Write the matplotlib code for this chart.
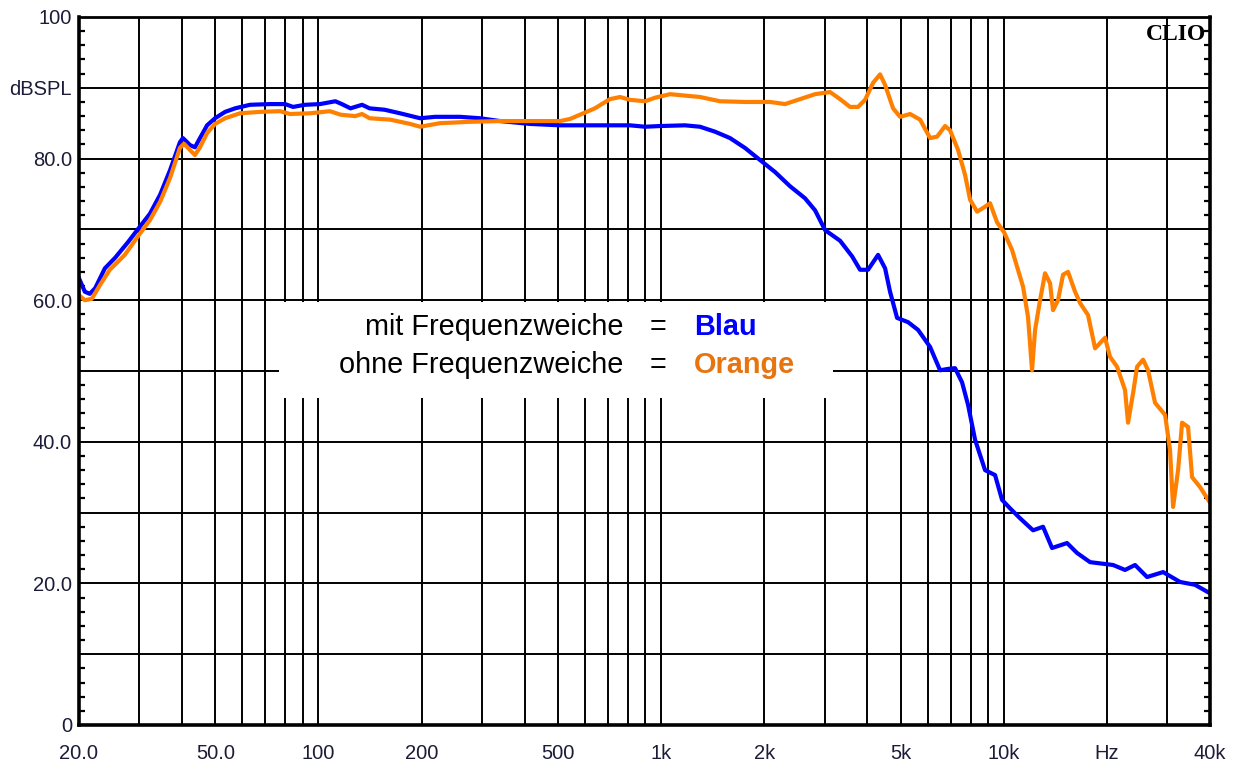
import matplotlib
matplotlib.use("Agg")
import matplotlib.pyplot as plt
from matplotlib.patches import Rectangle
from matplotlib.ticker import FixedLocator, MultipleLocator, NullFormatter

plt.rcParams['font.family'] = ['Liberation Sans', 'DejaVu Sans']

# --- data (Hz, dB SPL) ---
blau_freq = [20, 20.8, 21.5, 22.3, 23.8, 25.5, 27.8, 29.9, 32.2, 34.5, 36.9, 39.4, 40.2,
             42.2, 43.6, 45.1, 47.3, 49.9, 53.4, 57.1, 63.1, 72.2, 79.9, 84.3, 91.3, 101,
             112, 117, 124, 134, 141, 156, 173, 198, 219, 259, 296, 339, 414, 507, 663,
             811, 898, 993, 1174, 1299, 1437, 1589, 1758, 1944, 2151, 2378, 2630, 2814,
             3010, 3329, 3609, 3808, 4018, 4298, 4506, 4658, 4884, 5258, 5624, 6096,
             6520, 6880, 7210, 7558, 7870, 8248, 8820, 9434, 9888, 10436, 11160, 12180,
             13026, 13836, 15304, 16368, 17864, 20850, 22600, 24172, 26206, 29186,
             32718, 36180, 40000]
blau_db = [63.1, 61.2, 60.9, 61.7, 64.5, 66.0, 68.2, 70.2, 72.2, 74.9, 78.4, 82.3, 82.9,
           81.9, 81.6, 82.9, 84.7, 85.7, 86.6, 87.1, 87.6, 87.7, 87.7, 87.3, 87.6, 87.7,
           88.1, 87.7, 87.1, 87.6, 87.1, 86.9, 86.4, 85.7, 85.9, 85.9, 85.7, 85.3, 84.9,
           84.7, 84.7, 84.7, 84.5, 84.6, 84.7, 84.5, 83.8, 82.9, 81.5, 79.8, 78.1, 76.1,
           74.4, 72.7, 69.9, 68.4, 66.2, 64.3, 64.3, 66.4, 64.5, 61.2, 57.5, 56.9, 55.8,
           53.4, 50.1, 50.3, 50.4, 48.4, 45.2, 40.3, 36.0, 35.3, 31.8, 30.6, 29.2, 27.5,
           28.0, 25.0, 25.7, 24.3, 23.0, 22.6, 21.9, 22.6, 20.9, 21.6, 20.2, 19.8, 18.6]

orange_freq = [20, 20.8, 21.8, 23.0, 24.6, 27.2, 29.9, 32.2, 34.5, 36.9, 39.4, 40.5, 42.2,
               43.6, 45.1, 47.3, 49.9, 53.4, 59.0, 67.5, 77.2, 82.6, 94.5, 108, 116, 128,
               134, 141, 162, 185, 198, 226, 277, 339, 388, 507, 542, 580, 641, 709, 759,
               811, 898, 960, 1062, 1174, 1299, 1486, 1758, 2080, 2300, 2544, 2814, 3112,
               3329, 3560, 3757, 3938, 4156, 4356, 4506, 4754, 4984, 5330, 5700, 6096,
               6390, 6744, 6972, 7360, 7712, 7976, 8360, 8820, 9122, 9562, 10022, 10576,
               11388, 11776, 12098, 12346, 12766, 13202, 13652, 13930, 14404, 14896,
               15406, 16150, 16702, 17624, 18478, 19758, 20432, 21420, 22600, 23060,
               23858, 24500, 25512, 26380, 27654, 29580, 30580, 31212, 32280, 33160,
               34516, 35460, 37420, 40000]
orange_db = [60.7, 60.0, 60.2, 62.1, 64.3, 66.4, 69.2, 71.3, 73.9, 77.3, 81.5, 82.1, 81.2,
             80.5, 81.6, 83.6, 84.9, 85.7, 86.4, 86.6, 86.7, 86.3, 86.4, 86.7, 86.2, 86.0,
             86.3, 85.7, 85.5, 84.9, 84.5, 85.0, 85.2, 85.3, 85.3, 85.3, 85.6, 86.2, 87.1,
             88.4, 88.7, 88.3, 88.1, 88.6, 89.1, 88.9, 88.7, 88.1, 88.0, 88.0, 87.7, 88.4,
             89.1, 89.4, 88.4, 87.3, 87.3, 88.3, 90.7, 91.9, 90.4, 87.1, 85.9, 86.3, 85.5,
             82.9, 83.1, 84.6, 84.0, 81.2, 77.7, 74.2, 72.5, 73.2, 73.7, 71.0, 69.6, 67.1,
             61.9, 57.6, 50.1, 55.8, 60.0, 63.8, 62.4, 58.6, 60.0, 63.6, 64.0, 61.2, 59.6,
             57.9, 53.2, 54.7, 52.0, 50.6, 47.3, 42.7, 46.9, 50.6, 51.6, 50.1, 45.5, 43.8,
             38.8, 30.8, 36.0, 42.7, 42.1, 35.0, 33.6, 31.4]

grid_x = [20, 30, 40, 50, 60, 70, 80, 90, 100, 200, 300, 400, 500, 600, 700, 800, 900,
          1000, 2000, 3000, 4000, 5000, 6000, 7000, 8000, 9000, 10000, 20000, 30000, 40000]
x_labels = {20: "20.0", 50: "50.0", 100: "100", 200: "200", 500: "500", 1000: "1k",
            2000: "2k", 5000: "5k", 10000: "10k", 20000: "Hz", 40000: "40k"}
grid_y = [0, 10, 20, 30, 40, 50, 60, 70, 80, 90, 100]
y_labels = {0: "0", 20: "20.0", 40: "40.0", 60: "60.0", 80: "80.0", 90: "dBSPL", 100: "100"}

fig = plt.figure(figsize=(12.39, 7.69), dpi=100)
ax = fig.add_axes([79 / 1239, 44 / 769, 1131 / 1239, 708 / 769])

ax.plot(blau_freq, blau_db, color="#0000ff", lw=3.0, zorder=2)
ax.plot(orange_freq, orange_db, color="#ff8000", lw=3.0, zorder=2)

ax.set_xscale("log")
ax.set_xlim(20, 40000)
ax.set_ylim(0, 100)

ax.xaxis.set_major_locator(FixedLocator(grid_x))
ax.xaxis.set_minor_locator(FixedLocator([]))
ax.set_xticklabels([x_labels.get(v, "") for v in grid_x])
ax.yaxis.set_major_locator(FixedLocator(grid_y))
ax.set_yticklabels([y_labels.get(v, "") for v in grid_y])
ax.yaxis.set_minor_locator(MultipleLocator(2))
ax.yaxis.set_minor_formatter(NullFormatter())

lab_col = "#1c1c38"
ax.tick_params(axis="x", which="major", length=0, pad=14, labelsize=14.5, labelcolor=lab_col)
ax.tick_params(axis="y", which="major", length=0, pad=5, labelsize=14.5, labelcolor=lab_col)
ax.tick_params(axis="y", which="minor", direction="in", length=4, width=1.6,
               left=True, right=True, color="black")

ax.set_axisbelow(True)
ax.grid(True, which="major", color="black", lw=1.4)
for side in ["left", "bottom", "right"]:
    ax.spines[side].set_linewidth(2.6)
ax.spines["top"].set_linewidth(2.0)

# white legend box
ax.add_patch(Rectangle((0.177, 0.462), 0.49, 0.135, transform=ax.transAxes,
                       facecolor="white", edgecolor="none", zorder=1))
fs = 20.8
ax.text(0.481, 0.562, "mit Frequenzweiche", transform=ax.transAxes, ha="right",
        va="center", fontsize=fs, zorder=3)
ax.text(0.481, 0.508, "ohne Frequenzweiche", transform=ax.transAxes, ha="right",
        va="center", fontsize=fs, zorder=3)
ax.text(0.512, 0.562, "=", transform=ax.transAxes, ha="center", va="center",
        fontsize=fs, zorder=3)
ax.text(0.512, 0.508, "=", transform=ax.transAxes, ha="center", va="center",
        fontsize=fs, zorder=3)
ax.text(0.544, 0.562, "Blau", transform=ax.transAxes, ha="left", va="center",
        fontsize=fs, fontweight="bold", color="#0000ff", zorder=3)
ax.text(0.544, 0.508, "Orange", transform=ax.transAxes, ha="left", va="center",
        fontsize=fs, fontweight="bold", color="#e8740f", zorder=3)

ax.text(0.997, 0.99, "CLIO", transform=ax.transAxes, ha="right", va="top",
        fontsize=17, fontweight="bold", family="Liberation Serif", zorder=3)

fig.savefig("out.png", dpi=100)
